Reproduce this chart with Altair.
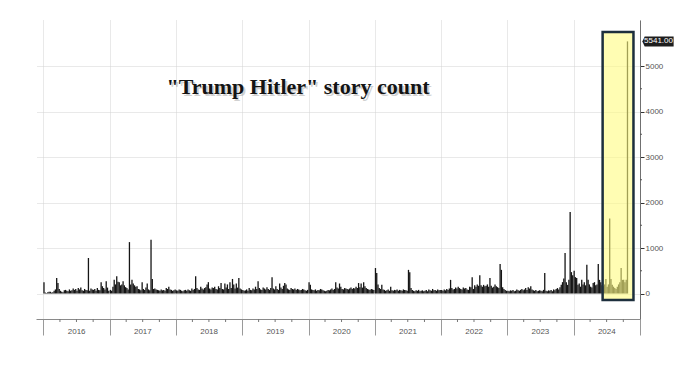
import altair as alt
import pandas as pd

# ---------------- data (weekly story counts) ----------------
years = [2016, 2017, 2018, 2019, 2020, 2021, 2022, 2023, 2024]

v2016 = [250, 20, 10, 30, 40, 40, 20, 30, 60, 90, 340, 230, 100, 60, 40, 30, 70, 80, 60, 50,
         90, 60, 70, 110, 80, 100, 60, 120, 90, 130, 70, 60, 100, 80, 70, 780, 60, 110, 90, 80,
         100, 60, 120, 80, 70, 250, 160, 120, 90, 270, 130, 60]
v2017 = [80, 60, 150, 300, 200, 380, 260, 250, 180, 200, 270, 180, 140, 120, 90, 1130, 200, 300, 220, 180,
         150, 160, 100, 90, 70, 250, 100, 80, 130, 220, 90, 70, 1180, 320, 100, 110, 90, 80, 70, 60,
         90, 70, 80, 60, 120, 100, 150, 90, 80, 60, 70, 90]
v2018 = [70, 60, 90, 80, 60, 50, 70, 80, 60, 90, 70, 60, 110, 80, 100, 380, 120, 90, 80, 150,
         110, 90, 120, 140, 200, 250, 110, 90, 130, 120, 150, 100, 90, 160, 120, 230, 100, 90, 220, 130,
         200, 100, 250, 120, 320, 200, 110, 220, 130, 340, 110, 90]
v2019 = [80, 60, 70, 90, 60, 120, 80, 70, 110, 90, 150, 100, 270, 120, 90, 80, 130, 110, 90, 140,
         100, 80, 120, 360, 110, 90, 160, 100, 80, 220, 130, 100, 170, 230, 200, 110, 90, 80, 120, 100,
         90, 110, 80, 100, 90, 70, 80, 100, 90, 70, 60, 80]
v2020 = [250, 190, 90, 80, 70, 90, 60, 80, 70, 100, 90, 70, 60, 50, 60, 80, 70, 90, 110, 80,
         100, 250, 130, 110, 220, 150, 100, 90, 120, 110, 100, 90, 110, 130, 100, 120, 110, 150, 120, 230,
         140, 220, 130, 250, 160, 120, 100, 90, 80, 100, 90, 80]
v2021 = [560, 450, 200, 120, 100, 190, 90, 80, 60, 70, 90, 60, 150, 70, 60, 80, 70, 90, 60, 80,
         70, 60, 90, 80, 70, 60, 520, 470, 120, 80, 60, 50, 70, 60, 80, 50, 60, 70, 50, 60,
         80, 50, 90, 70, 60, 100, 70, 80, 60, 90, 70, 80]
v2022 = [80, 60, 90, 70, 100, 80, 110, 300, 120, 90, 100, 130, 110, 150, 120, 100, 90, 130, 110, 120,
         90, 80, 150, 140, 360, 100, 180, 150, 200, 170, 400, 180, 150, 190, 160, 170, 200, 150, 340, 170,
         130, 150, 200, 160, 140, 120, 650, 520, 140, 100, 80, 60]
v2023 = [60, 50, 70, 60, 80, 50, 60, 90, 70, 60, 80, 100, 70, 90, 120, 80, 140, 110, 160, 90,
         70, 60, 80, 50, 60, 70, 60, 50, 80, 450, 60, 50, 70, 60, 80, 50, 90, 70, 100, 120,
         90, 140, 190, 250, 330, 890, 250, 190, 300, 1790, 470, 400]
v2024 = [500, 360, 340, 190, 220, 150, 300, 200, 250, 180, 630, 300, 200, 150, 130, 230, 250, 180, 200, 650,
         300, 250, 180, 160, 200, 320, 150, 200, 1650, 320, 190, 150, 120, 100, 150, 200, 250, 560, 300, 300,
         250, 300, 5541]

series = [v2016, v2017, v2018, v2019, v2020, v2021, v2022, v2023, v2024]

# axis decorations
year_starts = [f"{y}-01-01" for y in range(2016, 2026)]
year_mids = [f"{y}-07-02" for y in years]
year_labels = [str(y) for y in years]
quarter_days = ["04-01", "07-01", "10-01"]
y_ticks = [0, 1000, 2000, 3000, 4000, 5000]
y_minor = [500, 1500, 2500, 3500, 4500]

# highlight box (dates / values)
box_start = ["2024-06-09"]
box_end = ["2024-11-26"]
box_top = [5747]
box_bottom = [-143]

last_value = [5541]
last_label = ["5541.00"]
title_text = '"Trump Hitler" story count'

# ---------------- tables ----------------
rows = []
for yr, vals in zip(years, series):
    start = pd.Timestamp(f"{yr}-01-01")
    for w, v in enumerate(vals):
        rows.append({"date": (start + pd.Timedelta(days=7 * w + 3)).strftime("%Y-%m-%d"),
                     "count": v})
df = pd.DataFrame(rows)

df_q = pd.DataFrame({"q": [f"{y}-{d}" for y in years for d in quarter_days]})
df_years = pd.DataFrame({"mid": year_mids, "label": year_labels})
df_minor = pd.DataFrame({"v": y_minor})
df_box = pd.DataFrame({"s": box_start, "e": box_end, "t": box_top, "b": box_bottom})
df_last = pd.DataFrame({"v": last_value, "label": last_label})

W, H = 604, 299
NARROW = "Liberation Sans Narrow, Arial Narrow, sans-serif"
xscale = alt.Scale(domain=["2015-11-21", "2025-01-01"], padding=0)
yscale = alt.Scale(domain=[-560, 6011], nice=False, zero=False, padding=0)

xaxis = alt.Axis(values=year_starts, labels=False, tickSize=16, tickColor="#9a9a9a",
                 domainColor="#8a8a8a", grid=True, gridColor="#d2d2d2", gridDash=[1, 1],
                 title=None)
yaxis = alt.Axis(orient="right", values=y_ticks, format="d", tickSize=4,
                 tickColor="#333333", domainColor="#707070", labelColor="#555555",
                 labelFontSize=8, labelFont=NARROW, labelPadding=1, grid=True,
                 gridColor="#d2d2d2", gridDash=[1, 1], title=None)

bars = alt.Chart(df).mark_bar(size=1.3, color="#151515").encode(
    x=alt.X("date:T", scale=xscale, axis=xaxis, title=None),
    y=alt.Y("count:Q", scale=yscale, axis=yaxis, title=None),
    y2=alt.datum(0),
)

qticks = alt.Chart(df_q).mark_rule(color="#777777").encode(
    x=alt.X("q:T", scale=xscale, axis=xaxis, title=None),
    y=alt.value(H), y2=alt.value(H + 3),
)

ylabels = alt.Chart(df_years).mark_text(
    fontSize=8, color="#555555", font=NARROW, baseline="middle").encode(
    x=alt.X("mid:T", scale=xscale, axis=xaxis, title=None),
    y=alt.value(H + 13),
    text="label:N",
)

minor = alt.Chart(df_minor).mark_rule(color="#555555").encode(
    y=alt.Y("v:Q", scale=yscale, axis=yaxis, title=None),
    x=alt.value(W), x2=alt.value(W + 2),
)

box = alt.Chart(df_box).mark_rect(fill="#fffb80", fillOpacity=0.6, stroke="#1d2f3d",
                                  strokeWidth=2.5).encode(
    x=alt.X("s:T", scale=xscale, axis=xaxis, title=None), x2="e:T",
    y=alt.Y("t:Q", scale=yscale, axis=yaxis, title=None), y2="b:Q",
)

tag = alt.Chart(df_last).mark_point(
    shape="M-1,0L-0.85,-0.32L1,-0.32L1,0.32L-0.85,0.32Z", size=980, filled=True,
    color="#1e1e1e", opacity=1).encode(
    y=alt.Y("v:Q", scale=yscale, axis=yaxis, title=None),
    x=alt.value(W + 18),
)
tag_text = alt.Chart(df_last).mark_text(
    fontSize=8, color="white", font=NARROW, baseline="middle").encode(
    y=alt.Y("v:Q", scale=yscale, axis=yaxis, title=None),
    x=alt.value(W + 18.5),
    text="label:N",
)

df_title = pd.DataFrame({"t": [title_text]})
title_shadow = alt.Chart(df_title).mark_text(
    font="Liberation Serif, Times New Roman, serif", fontSize=22, fontWeight="bold",
    color="#9a9a9a", opacity=0.45, baseline="middle").encode(
    x=alt.value(264), y=alt.value(69), text="t:N")
title = alt.Chart(df_title).mark_text(
    font="Liberation Serif, Times New Roman, serif", fontSize=22, fontWeight="bold",
    color="#141414", baseline="middle").encode(
    x=alt.value(262), y=alt.value(67), text="t:N")

chart = alt.layer(bars, qticks, ylabels, minor, box, tag, tag_text, title_shadow, title).properties(
    width=W, height=H,
    autosize=alt.AutoSizeParams(type="none"),
    padding={"left": 28, "top": 12, "right": 43, "bottom": 46},
    background="white",
).configure_view(stroke=None)

chart.save("out.html", embed_options={"renderer": "svg", "actions": False})
